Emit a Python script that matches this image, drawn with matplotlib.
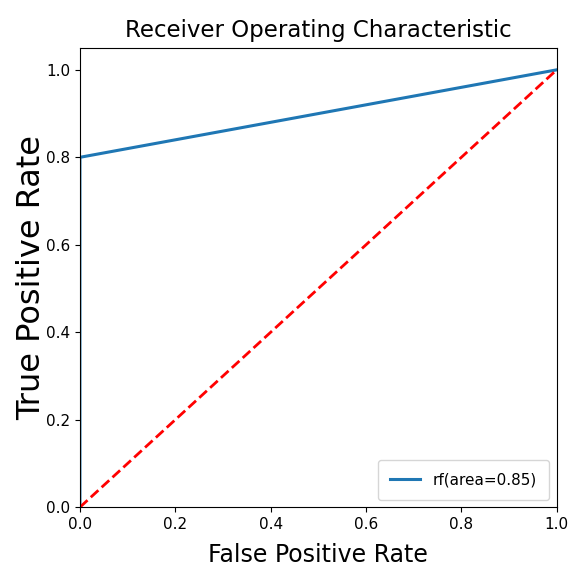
import matplotlib
matplotlib.use("Agg")
import matplotlib.pyplot as plt

# ROC values
fpr = [0.0, 0.0, 1.0]
tpr = [0.0, 0.8, 1.0]
diag = [0.0, 1.0]
label = "rf(area=0.85)"
ticks = [0.0, 0.2, 0.4, 0.6, 0.8, 1.0]

fig = plt.figure(figsize=(5.71, 5.85), dpi=100)
ax = fig.add_axes([0.140, 0.133, 0.835, 0.785])

ax.plot(fpr, tpr, color='#1f77b4', lw=2.2, label=label)
ax.plot(diag, diag, 'r--', lw=2)

ax.set_xlim(0, 1)
ax.set_ylim(0, 1.05)
ax.set_xticks(ticks)
ax.set_yticks(ticks)
ax.tick_params(labelsize=11)
ax.set_title('Receiver Operating Characteristic', fontsize=16.5, pad=8)
ax.set_xlabel('False Positive Rate', fontsize=17, labelpad=8)
ax.set_ylabel('True Positive Rate', fontsize=23, labelpad=-1)
ax.legend(loc='lower right', fontsize=11, borderpad=0.8)

fig.savefig('out.png', dpi=100)
